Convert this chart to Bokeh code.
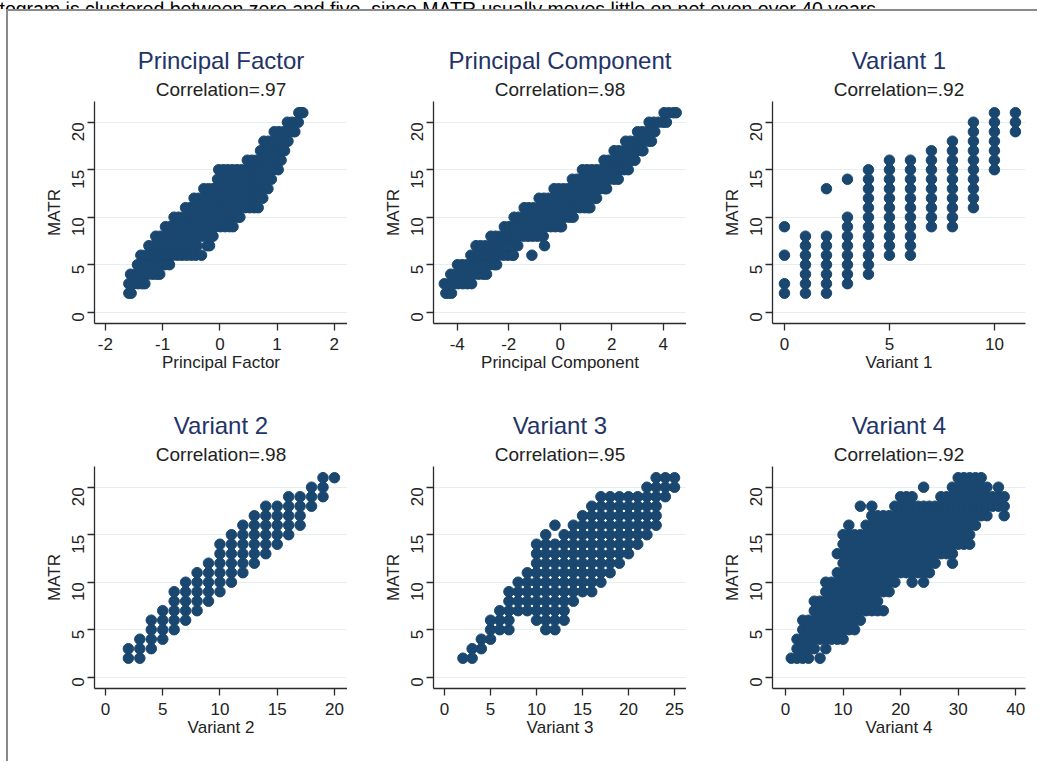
import math
from bokeh.plotting import figure
from bokeh.layouts import column, row
from bokeh.models import Range1d, Title, Spacer
from bokeh.core.properties import value
from bokeh.embed import file_html
from bokeh.resources import INLINE

# tail of the caption line that sits above the graph (cut off at the top)
caption = "togram is clustered between zero and five, since MATR usually moves little on net even over 40 years."

titles = ["Principal Factor", "Principal Component", "Variant 1",
          "Variant 2", "Variant 3", "Variant 4"]
correlations = ["Correlation=.97", "Correlation=.98", "Correlation=.92",
                "Correlation=.98", "Correlation=.95", "Correlation=.92"]
x_labels = titles
x_ticks = [[-2, -1, 0, 1, 2], [-4, -2, 0, 2, 4], [0, 5, 10],
           [0, 5, 10, 15, 20], [0, 5, 10, 15, 20, 25], [0, 10, 20, 30, 40]]
y_ticks = [0, 5, 10, 15, 20]

pf_by_matr = {
    2: [-1.59, -1.55],
    3: [-1.59, -1.51, -1.43, -1.36, -1.31],
    4: [-1.56, -1.48, -1.40, -1.33, -1.25, -1.17, -1.10, -1.05],
    5: [-1.44, -1.36, -1.28, -1.20, -1.12, -1.04, -0.96, -0.88],
    6: [-1.38, -1.30, -1.22, -1.14, -1.06, -0.98, -0.90, -0.82, -0.74, -0.66, -0.58, -0.50, -0.42, -0.32],
    7: [-1.24, -1.16, -1.08, -1.00, -0.92, -0.84, -0.76, -0.68, -0.60, -0.52, -0.44, -0.40, -0.22, -0.18],
    8: [-1.12, -1.04, -0.96, -0.88, -0.80, -0.72, -0.64, -0.56, -0.48, -0.40, -0.32, -0.24, -0.16, -0.12],
    9: [-0.95, -0.87, -0.79, -0.71, -0.63, -0.55, -0.47, -0.39, -0.31, -0.23, -0.15, -0.07, 0.01, 0.09, 0.17, 0.23],
    10: [-0.80, -0.72, -0.64, -0.56, -0.48, -0.40, -0.32, -0.24, -0.16, -0.08, 0.00, 0.08, 0.16, 0.24, 0.31, 0.35],
    11: [-0.60, -0.52, -0.44, -0.36, -0.28, -0.20, -0.12, -0.04, 0.04, 0.12, 0.20, 0.28, 0.36, 0.44, 0.52, 0.60, 0.67],
    12: [-0.45, -0.37, -0.29, -0.21, -0.13, -0.05, 0.03, 0.11, 0.19, 0.27, 0.35, 0.43, 0.51, 0.59, 0.67, 0.75],
    13: [-0.28, -0.20, -0.12, -0.04, 0.04, 0.12, 0.20, 0.28, 0.36, 0.44, 0.52, 0.60, 0.68, 0.76, 0.84],
    14: [-0.04, 0.04, 0.12, 0.20, 0.28, 0.36, 0.44, 0.52, 0.60, 0.68, 0.76, 0.84, 0.90],
    15: [-0.02, 0.06, 0.14, 0.22, 0.30, 0.38, 0.46, 0.54, 0.62, 0.70, 0.78, 0.86, 0.94, 1.02],
    16: [0.48, 0.56, 0.64, 0.72, 0.80, 0.88, 0.96, 1.04, 1.07],
    17: [0.71, 0.79, 0.87, 0.95, 1.03, 1.11, 1.13],
    18: [0.77, 0.85, 0.93, 1.01, 1.09, 1.17, 1.19],
    19: [0.95, 1.03, 1.11, 1.19, 1.27, 1.31],
    20: [1.18, 1.26, 1.34, 1.37],
    21: [1.38, 1.42, 1.45],
}

pc_by_matr = {
    2: [-4.44, -4.33, -4.22],
    3: [-4.50, -4.32, -4.14, -3.96, -3.78, -3.60, -3.44],
    4: [-4.25, -4.07, -3.89, -3.71, -3.53, -3.35, -3.17, -2.99, -2.86],
    5: [-3.99, -3.81, -3.63, -3.45, -3.27, -3.09, -2.91, -2.73, -2.55, -2.47],
    6: [-3.47, -3.29, -3.11, -2.93, -2.75, -2.57, -2.39, -2.21, -2.03, -1.85, -1.82, -1.10],
    7: [-3.27, -3.09, -2.91, -2.73, -2.55, -2.37, -2.19, -2.01, -1.83, -1.65, -0.61],
    8: [-2.69, -2.51, -2.33, -2.15, -1.97, -1.79, -1.61, -1.43, -1.25, -1.07, -0.89, -0.71, -0.66],
    9: [-2.17, -1.99, -1.81, -1.63, -1.45, -1.27, -1.09, -0.91, -0.73, -0.55, -0.37, -0.19, -0.01, 0.05],
    10: [-1.79, -1.61, -1.43, -1.25, -1.07, -0.89, -0.71, -0.53, -0.35, -0.17, 0.01, 0.19, 0.37, 0.50],
    11: [-1.40, -1.22, -1.04, -0.86, -0.68, -0.50, -0.32, -0.14, 0.04, 0.22, 0.40, 0.58, 0.76, 0.94, 1.08, 1.15],
    12: [-0.82, -0.64, -0.46, -0.28, -0.10, 0.08, 0.26, 0.44, 0.62, 0.80, 0.98, 1.16, 1.34, 1.41],
    13: [-0.24, -0.06, 0.12, 0.30, 0.48, 0.66, 0.84, 1.02, 1.20, 1.38, 1.56, 1.74, 1.80],
    14: [0.47, 0.65, 0.83, 1.01, 1.19, 1.37, 1.55, 1.73, 1.91, 2.09, 2.25],
    15: [0.86, 1.04, 1.22, 1.40, 1.58, 1.76, 1.94, 2.12, 2.30, 2.48, 2.64],
    16: [1.70, 1.88, 2.06, 2.24, 2.42, 2.60, 2.78, 2.90],
    17: [2.09, 2.27, 2.45, 2.63, 2.81, 2.99, 3.17, 3.21],
    18: [2.54, 2.72, 2.90, 3.08, 3.26, 3.44, 3.54],
    19: [3.00, 3.18, 3.36, 3.54, 3.67],
    20: [3.45, 3.63, 3.81, 3.99, 4.12],
    21: [4.03, 4.21, 4.39, 4.50],
}

# integer measures: score -> MATR values in that column
v1_by_score = {
    0: [2, 3, 6, 9],
    1: [2, 3, 4, 5, 6, 7, 8],
    2: [2, 3, 4, 5, 6, 7, 8, 13],
    3: [3, 4, 5, 6, 7, 8, 9, 10, 14],
    4: [4, 5, 6, 7, 8, 9, 10, 11, 12, 13, 14, 15],
    5: [6, 7, 8, 9, 10, 11, 12, 13, 14, 15, 16],
    6: [6, 7, 8, 9, 10, 11, 12, 13, 14, 15, 16],
    7: [9, 10, 11, 12, 13, 14, 15, 16, 17],
    8: [9, 10, 11, 12, 13, 14, 15, 16, 17, 18],
    9: [11, 12, 13, 14, 15, 16, 17, 18, 19, 20],
    10: [15, 16, 17, 18, 19, 20, 21],
    11: [19, 20, 21],
}

v2_by_score = {
    2: [2, 3],
    3: [2, 3, 4],
    4: [3, 4, 5, 6],
    5: [4, 5, 6, 7],
    6: [5, 6, 7, 8, 9],
    7: [6, 7, 8, 9, 10],
    8: [7, 8, 9, 10, 11],
    9: [8, 9, 10, 11, 12],
    10: [9, 10, 11, 12, 13, 14],
    11: [10, 11, 12, 13, 14, 15],
    12: [11, 12, 13, 14, 15, 16],
    13: [12, 13, 14, 15, 16, 17],
    14: [13, 14, 15, 16, 17, 18],
    15: [14, 15, 16, 17, 18],
    16: [15, 16, 17, 18, 19],
    17: [16, 17, 18, 19],
    18: [18, 19, 20],
    19: [19, 20, 21],
    20: [21],
}

v3_by_score = {
    2: [2],
    3: [2, 3],
    4: [3, 4],
    5: [4, 5, 6],
    6: [5, 6, 7],
    7: [5, 6, 7, 8, 9],
    8: [7, 8, 9, 10],
    9: [7, 8, 9, 10, 11],
    10: [6, 7, 8, 9, 10, 11, 12, 13, 14],
    11: [5, 6, 7, 8, 9, 10, 11, 12, 13, 14, 15],
    12: [5, 6, 7, 8, 9, 10, 11, 12, 13, 14, 16],
    13: [6, 7, 8, 9, 10, 11, 12, 13, 14, 15],
    14: [8, 9, 10, 11, 12, 13, 14, 15, 16],
    15: [9, 10, 11, 12, 13, 14, 15, 16, 17],
    16: [9, 10, 11, 12, 13, 14, 15, 16, 17, 18],
    17: [10, 11, 12, 13, 14, 15, 16, 17, 18, 19],
    18: [11, 12, 13, 14, 15, 16, 17, 18, 19],
    19: [12, 13, 14, 15, 16, 17, 18, 19],
    20: [13, 14, 15, 16, 17, 18, 19],
    21: [14, 15, 16, 17, 18, 19],
    22: [15, 16, 17, 18, 19, 20],
    23: [16, 17, 18, 19, 20, 21],
    24: [19, 20, 21],
    25: [20, 21],
}

# variant 4 is dense, so it is kept by row: MATR -> variant 4 scores
v4_by_matr = {
    2: [1, 2, 3, 4, 6],
    3: [2, 3, 4, 5, 7],
    4: [2, 3, 4, 5, 6, 7, 8, 9, 10],
    5: [3, 4, 5, 6, 7, 8, 9, 10, 11, 12],
    6: [3, 4, 5, 6, 7, 8, 9, 10, 11, 12, 13],
    7: [5, 6, 7, 8, 9, 10, 11, 12, 13, 14, 15, 16, 17],
    8: [5, 6, 7, 8, 9, 10, 11, 12, 13, 14, 15, 16],
    9: [7, 8, 9, 10, 11, 12, 13, 14, 15, 16, 17, 18],
    10: [7, 8, 9, 10, 11, 12, 13, 14, 15, 16, 17, 18, 19, 22, 24],
    11: [9, 10, 11, 12, 13, 14, 15, 16, 17, 18, 19, 20, 21, 22, 23, 24, 25],
    12: [10, 11, 12, 13, 14, 15, 16, 17, 18, 19, 20, 21, 22, 23, 24, 25, 26, 29],
    13: [9, 10, 11, 12, 13, 14, 15, 16, 17, 18, 19, 20, 21, 22, 23, 24, 25, 26, 27, 28, 29],
    14: [10, 11, 12, 13, 14, 15, 16, 17, 18, 19, 20, 21, 22, 23, 24, 25, 26, 27, 28, 29, 30, 31, 32],
    15: [10, 11, 12, 13, 14, 15, 16, 17, 18, 19, 20, 21, 22, 23, 24, 25, 26, 27, 28, 29, 30, 31, 32],
    16: [11, 14, 15, 16, 17, 18, 19, 20, 21, 22, 23, 24, 25, 26, 27, 28, 29, 30, 31, 32, 33],
    17: [15, 16, 17, 18, 19, 20, 21, 22, 23, 24, 25, 26, 27, 28, 29, 30, 31, 32, 33, 34, 35, 38],
    18: [13, 15, 19, 20, 21, 22, 23, 24, 25, 26, 27, 28, 29, 30, 31, 32, 33, 34, 35, 36, 37, 38],
    19: [20, 21, 22, 27, 28, 29, 30, 31, 32, 33, 34, 35, 36, 37, 38],
    20: [24, 29, 30, 31, 32, 33, 34, 35, 37],
    21: [30, 31, 32, 33, 34],
}


def points_from_rows(rows):
    xs, ys = [], []
    for matr, vals in rows.items():
        for v in vals:
            xs.append(v)
            ys.append(matr)
    return xs, ys


def points_from_cols(cols):
    xs, ys = [], []
    for score, vals in cols.items():
        for m in vals:
            xs.append(score)
            ys.append(m)
    return xs, ys


panels = [
    points_from_rows(pf_by_matr),
    points_from_rows(pc_by_matr),
    points_from_cols(v1_by_score),
    points_from_cols(v2_by_score),
    points_from_cols(v3_by_score),
    points_from_rows(v4_by_matr),
]
x_spans = [(-2.19, 2.23), (-4.92, 4.9), (-0.57, 11.48),
           (-0.96, 21.14), (-1.2, 26.3), (-2.26, 41.7)]

FONT = "Liberation Sans"
NAVY = "#1a476f"
TITLE_COLOR = "#1f3467"


def make_panel(i, top_pad, bottom_pad):
    last = i % 3 == 2
    xs, ys = panels[i]
    p = figure(width=351 if last else 339, height=375,
               x_range=Range1d(*x_spans[i]), y_range=Range1d(-1.19, 22.18),
               min_border_left=86, min_border_right=12 if last else 0,
               min_border_top=top_pad, min_border_bottom=bottom_pad,
               output_backend="svg", toolbar_location=None)
    p.outline_line_color = None

    # main title is the outer one, the correlation line sits next to the frame
    p.title.text = titles[i]
    p.title.align = "center"
    p.title.text_font = FONT
    p.title.text_font_size = "24px"
    p.title.text_font_style = "normal"
    p.title.text_color = TITLE_COLOR
    p.title.standoff = 3
    p.add_layout(Title(text=correlations[i], align="center", text_font=FONT,
                       text_font_size="19px", text_font_style="normal",
                       text_color="#222222", standoff=3), "above")

    p.scatter(xs, ys, size=10.5, color=NAVY)

    p.xaxis.ticker = x_ticks[i]
    p.yaxis.ticker = y_ticks
    # plain hyphen for negative tick labels, as in the original
    p.xaxis.major_label_overrides = {t: str(t) for t in x_ticks[i]}
    p.xaxis.axis_label = x_labels[i]
    p.yaxis.axis_label = "MATR"
    p.yaxis.major_label_orientation = math.pi / 2
    for ax in (p.xaxis[0], p.yaxis[0]):
        ax.axis_line_color = "#2b2b2b"
        ax.axis_line_width = 1.3
        ax.major_tick_line_color = "#2b2b2b"
        ax.major_tick_line_width = 1.3
        ax.major_tick_out = 7
        ax.major_tick_in = 0
        ax.minor_tick_line_color = None
        ax.major_label_text_font = FONT
        ax.major_label_text_font_size = "17px"
        ax.major_label_text_color = "#222222"
        ax.axis_label_text_font = FONT
        ax.axis_label_text_font_size = "17px"
        ax.axis_label_text_font_style = "normal"
        ax.axis_label_text_color = "#222222"
        ax.axis_label_standoff = 0
    p.xaxis.major_label_standoff = 7
    p.yaxis.major_label_standoff = 9
    p.xgrid.visible = False
    p.ygrid.grid_line_color = "#e6eff0"
    p.ygrid.grid_line_width = 1.2
    return p


top_row = [make_panel(i, 90, 63) for i in range(3)]
bottom_row = [make_panel(i, 80, 73) for i in range(3, 6)]

header = figure(width=1038, height=10, x_range=Range1d(0, 1038), y_range=Range1d(0, 10),
                x_axis_type=None, y_axis_type=None, min_border=0,
                output_backend="svg", toolbar_location=None)
header.outline_line_color = None
header.xgrid.visible = False
header.ygrid.visible = False
header.text(x=[0], y=[3], text=[caption], text_font_size="19.5px", text_color="#000000",
            text_baseline="alphabetic", text_align="left", text_font=value(FONT))

box = column(row(*top_row), row(*bottom_row),
             styles={"border-top": "2px solid #8a8a8a", "border-left": "2px solid #8a8a8a"})
page = column(header, row(Spacer(width=7, height=750), box),
              styles={"margin-top": "-1px", "margin-left": "-1px"})

open("out.html", "w").write(file_html(page, INLINE))
